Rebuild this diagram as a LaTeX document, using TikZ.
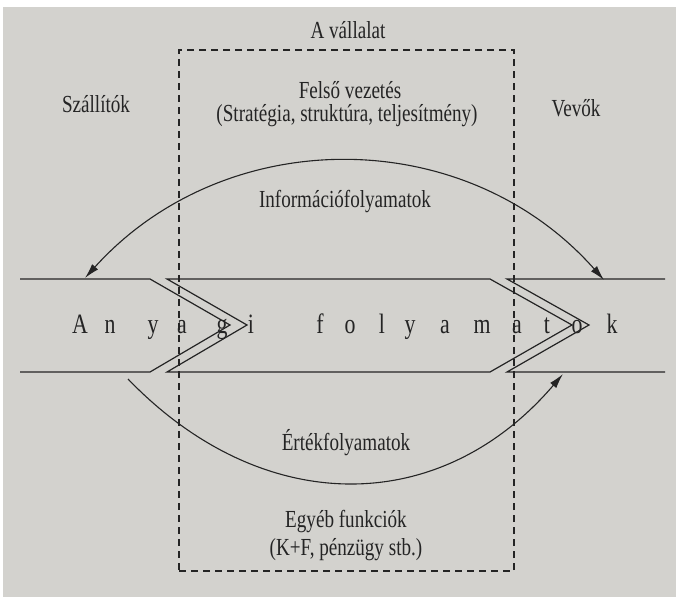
\documentclass[tikz,border=0pt]{standalone}
\usepackage{fontspec}
\setmainfont{Liberation Serif}[FakeStretch=0.78]
\usepackage{tikz}
\usetikzlibrary{arrows.meta}

\definecolor{paper}{RGB}{211,210,206}
\definecolor{ink}{RGB}{36,36,36}

\begin{document}
\begin{tikzpicture}[
  x=1pt, y=-1pt,
  lbl/.style={font=\fontsize{24.5}{28}\selectfont, text=ink, inner sep=0pt, anchor=base},
  flowletter/.style={font=\fontsize{28}{30}\selectfont, text=ink, inner sep=0pt, anchor=base},
  band/.style={draw=ink, line width=1.2pt, line join=miter},
  dashbox/.style={draw=ink, line width=1.1pt, dash pattern=on 7pt off 5pt},
  arrow/.style={draw=ink, line width=1.1pt, -{Latex[length=15pt,width=8pt]}},
  dblarrow/.style={draw=ink, line width=1.1pt, {Latex[length=15pt,width=8pt]}-{Latex[length=15pt,width=8pt]}},
]
\useasboundingbox (0,0) rectangle (676,597);
\fill[paper] (3,7) rectangle (676,597);

% the firm
\node[dashbox, minimum width=335pt, minimum height=521pt] (firm) at (346.5,310.5) {};
\node[lbl] (vallalat) at (348,38) {A vállalat};

\node[lbl] (felso) at (350,98) {Felső vezetés};
\node[lbl] (strat) at (347,121) {(Stratégia, struktúra, teljesítmény)};
\node[lbl] (szall) at (96,112) {Szállítók};
\node[lbl] (vevok) at (576,116) {Vevők};

% material flow band
\draw[band] (20,279) -- (150,279) -- (230,325) -- (150,372) -- (20,372);
\draw[band] (167,279) -- (490,279) -- (572,325) -- (490,372) -- (167,372) -- (247,325) -- cycle;
\draw[band] (665,279) -- (507,279) -- (589,325) -- (507,372) -- (665,372);

\foreach \ch/\x [count=\i] in {A/80,n/110,y/153,a/182,g/222,i/251,f/320,o/350,l/382,y/410,a/445,m/482,a/517,t/547,o/577,k/612}
  \node[flowletter] (ch\i) at (\x,333) {\ch};

% information flows
\coordinate (infoL) at (85,278);
\coordinate (infoR) at (604,280);
\draw[dblarrow] (infoL) .. controls (225,123) and (465,123) .. (infoR);
\node[lbl] (info) at (345,207) {Információfolyamatok};

% value flows
\coordinate (valL) at (128,379);
\coordinate (valR) at (563,374);
\draw[arrow] (valL) .. controls (262,518) and (440,518) .. (valR);
\node[lbl] (ertek) at (346,450) {Értékfolyamatok};

\node[lbl] (egyeb) at (346,527) {Egyéb funkciók};
\node[lbl] (kf) at (346,555) {(K+F, pénzügy stb.)};

\end{tikzpicture}
\end{document}
